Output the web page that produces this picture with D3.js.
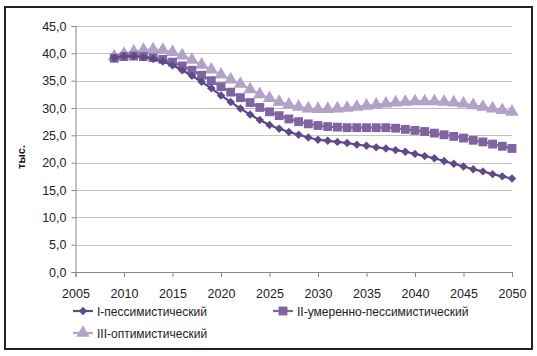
<!DOCTYPE html>
<html><head><meta charset="utf-8">
<script src="https://cdn.jsdelivr.net/npm/d3@7"></script>
<style>body{margin:0;background:#fff}svg{display:block}text{font-family:"Liberation Sans",Arial,sans-serif}</style>
</head><body>
<svg id="c" width="537" height="356"></svg>
<script>
const years = d3.range(2009, 2051);
const seriesI = [39.2,39.5,39.5,39.3,39.0,38.5,37.8,36.9,35.9,34.8,33.6,32.3,31.1,29.9,28.8,27.8,26.9,26.2,25.6,25.1,24.6,24.2,24.0,23.8,23.6,23.3,23.1,22.8,22.6,22.3,22.0,21.6,21.2,20.8,20.3,19.8,19.3,18.8,18.4,17.9,17.5,17.1];
const seriesII = [39.1,39.4,39.5,39.4,39.2,38.9,38.4,37.7,36.9,36.0,35.0,33.9,32.9,31.9,31.0,30.1,29.3,28.6,28.0,27.5,27.1,26.8,26.6,26.5,26.4,26.4,26.4,26.4,26.4,26.3,26.1,25.9,25.7,25.4,25.1,24.8,24.5,24.1,23.8,23.4,23.0,22.6];
const seriesIII = [39.4,39.9,40.3,40.6,40.7,40.6,40.2,39.6,38.8,37.9,37.0,36.1,35.2,34.4,33.4,32.5,31.8,31.1,30.6,30.2,29.9,29.8,29.8,29.9,30.0,30.2,30.4,30.6,30.8,31.0,31.1,31.2,31.2,31.2,31.1,31.0,30.8,30.5,30.2,29.9,29.6,29.3];
const seriesNames = ["I-пессимистический","II-умеренно-пессимистический","III-оптимистический"];
const xTicks = [2005,2010,2015,2020,2025,2030,2035,2040,2045,2050];
const yTicks = [0,5,10,15,20,25,30,35,40,45];
const yTitle = "тыс.";

const svg = d3.select("#c");
const colors = ["#5f4a87","#8064a2","#b3a2c7"];
const symbols = [d3.symbolDiamond2, d3.symbolSquare, d3.symbolTriangle];
const symSize = [45, 78, 78];

// outer frame
svg.append("rect").attr("x",5).attr("y",7).attr("width",527).attr("height",342)
  .attr("fill","#fff").attr("stroke","#222").attr("stroke-width",2);

const x = d3.scaleLinear().domain([2005,2050]).range([75.5,512]);
const y = d3.scaleLinear().domain([0,45]).range([272,26]);

// gridlines
svg.append("g").selectAll("line").data(yTicks.filter(d=>d>0)).join("line")
  .attr("x1",x(2005)).attr("x2",x(2050)).attr("y1",d=>Math.round(y(d))+0.5).attr("y2",d=>Math.round(y(d))+0.5)
  .attr("stroke","#c3c3c3").attr("stroke-width",1);

// y axis
const ya = svg.append("g").attr("transform",`translate(${x(2005)},0)`)
  .call(d3.axisLeft(y).tickValues(yTicks).tickSize(4).tickPadding(5).tickFormat(d=>d3.format(".1f")(d).replace(".",",")));
ya.select(".domain").attr("stroke","#888");
ya.selectAll(".tick line").attr("stroke","#888");
ya.selectAll("text").attr("font-size","12.5px").attr("fill","#222").attr("font-family","Liberation Sans, Arial, sans-serif");

// x axis
const xa = svg.append("g").attr("transform",`translate(0,${y(0)})`)
  .call(d3.axisBottom(x).tickValues(xTicks).tickSize(5).tickPadding(12).tickFormat(d3.format("d")));
xa.select(".domain").attr("stroke","#888");
xa.selectAll(".tick line").attr("stroke","#888");
xa.selectAll("text").attr("font-size","12.5px").attr("fill","#222").attr("font-family","Liberation Sans, Arial, sans-serif");

// y title
svg.append("text").attr("transform","translate(25,157) rotate(-90)").attr("text-anchor","middle")
  .attr("font-size","11px").attr("font-weight","bold").attr("fill","#111").text(yTitle);

const all = [seriesI, seriesII, seriesIII];
const line = d3.line().x((d,i)=>x(years[i])).y(d=>y(d));
[2,1,0].forEach(k=>{
  const g = svg.append("g");
  g.append("path").datum(all[k]).attr("d",line).attr("fill","none")
    .attr("stroke",colors[k]).attr("stroke-width",2.2);
  g.selectAll("path.m").data(all[k]).join("path").attr("class","m")
    .attr("transform",(d,i)=>`translate(${x(years[i])},${y(d)})`)
    .attr("d",d3.symbol().type(symbols[k]).size(symSize[k])).attr("fill",colors[k]);
});

// legend
const leg = [{x:73,y:311},{x:273,y:311},{x:73,y:333}];
leg.forEach((p,k)=>{
  const g = svg.append("g");
  g.append("line").attr("x1",p.x).attr("x2",p.x+20).attr("y1",p.y).attr("y2",p.y)
    .attr("stroke",colors[k]).attr("stroke-width",2.2);
  g.append("path").attr("transform",`translate(${p.x+10},${p.y})`)
    .attr("d",d3.symbol().type(symbols[k]).size(symSize[k])).attr("fill",colors[k]);
  g.append("text").attr("x",p.x+24).attr("y",p.y+4.5).attr("font-size","12px").attr("fill","#222").text(seriesNames[k]);
});
</script>
</body></html>
